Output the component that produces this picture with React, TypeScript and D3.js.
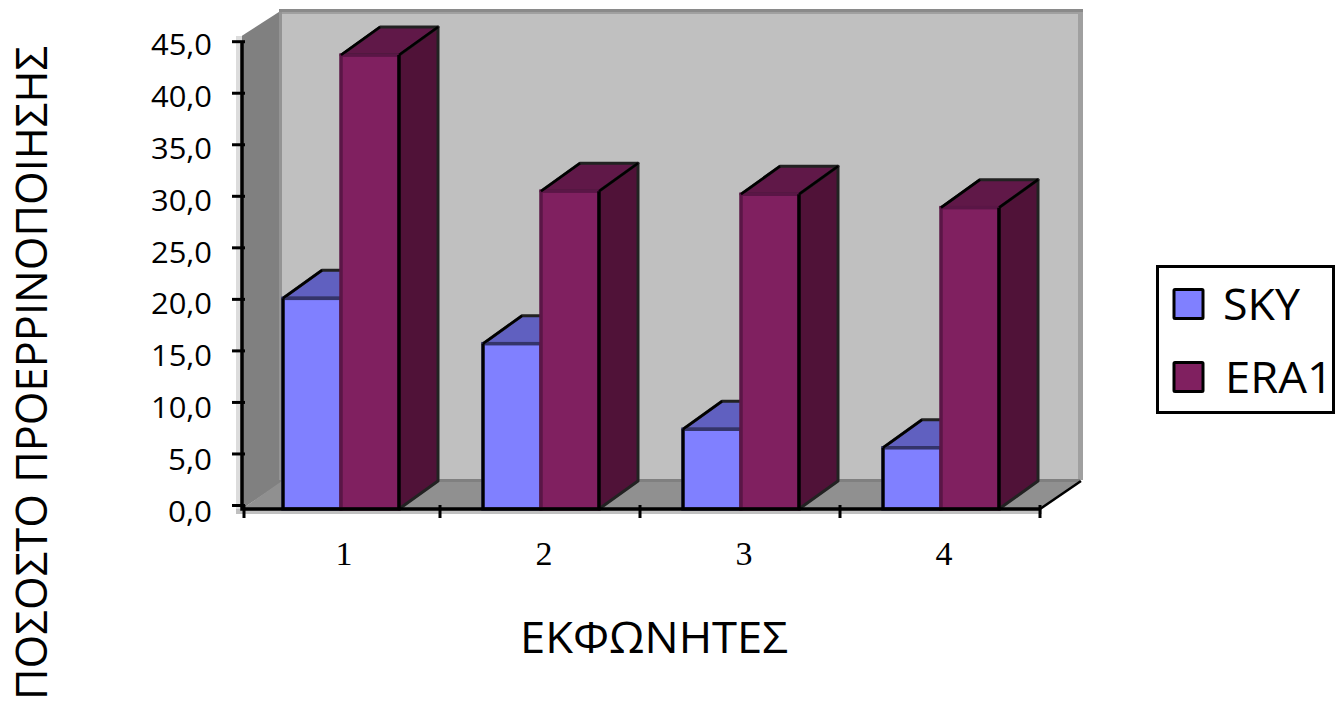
import React from "react";
import * as d3 from "d3";

const categories = ["1", "2", "3", "4"];
const seriesNames = ["SKY", "ERA1"];
const sky = [20.1, 15.7, 7.4, 5.6];
const era1 = [43.7, 30.5, 30.2, 28.9];
const yTicks = [0, 5, 10, 15, 20, 25, 30, 35, 40, 45];
const yTitle = "ΠΟΣΟΣΤΟ ΠΡΟΕΡΡΙΝΟΠΟΙΗΣΗΣ";
const xTitle = "ΕΚΦΩΝΗΤΕΣ";

const W = 1335, H = 701;
const DX = 39, DY = -28;
const BASE = 509;
const x0 = d3.scaleBand<string>().domain(categories).range([240, 1040]);
const x1 = d3.scaleBand<string>().domain(seriesNames).range([43, 159]);
const y = d3.scaleLinear().domain([0, 45]).range([505.5, 41.7]);
const yLabel = d3.scaleLinear().domain([0, 45]).range([511, 44.5]);
const fmt = (v: number) => v.toFixed(1).replace(".", ",");
const line = d3.line();
const poly = (pts: [number, number][]) => line(pts) + "Z";

const colors: Record<string, { front: string; top: string; side: string; edge: string }> = {
  SKY: { front: "#8080ff", top: "#6060c0", side: "#404080", edge: "#34346a" },
  ERA1: { front: "#802060", top: "#601848", side: "#501238", edge: "#5a1646" },
};

function Bar({ cat, name, value }: { cat: string; name: string; value: number }) {
  const l = x0(cat)! + x1(name)!;
  const r = l + x1.bandwidth();
  const t = y(value);
  const c = colors[name];
  const dark = { stroke: "#222", strokeWidth: 3, strokeLinejoin: "round" as const };
  return (
    <g>
      <path d={poly([[r, BASE], [r + DX, BASE + DY], [r + DX, t + DY], [r, t]])} fill={c.side} {...dark} />
      <path d={poly([[l, t], [l + DX, t + DY], [r + DX, t + DY], [r, t]])} fill={c.top} {...dark} />
      <rect x={l} y={t} width={r - l} height={BASE - t} fill={c.front} stroke={c.edge} strokeWidth={3.5} />
      <line x1={l} x2={l + DX} y1={t} y2={t + DY} stroke="#000" strokeWidth={2.5} />
      <line x1={r} x2={r + DX} y1={t} y2={t + DY} stroke="#000" strokeWidth={2.5} />
      {name === "SKY" ? (
        <line x1={l} x2={l} y1={t} y2={BASE} stroke="#000" strokeWidth={3} />
      ) : (
        <line x1={r} x2={r} y1={t} y2={BASE} stroke="#000" strokeWidth={3.5} />
      )}
    </g>
  );
}

export default function App() {
  const t = y(45), L = 242, R = 1040;
  return (
    <svg width={W} height={H} style={{ position: "fixed", left: 0, top: 0, background: "#fff" }}>
      {/* shadow strips around the axes */}
      <rect x={236} y={36} width={6} height={477} fill="#dcdcdc" />
      <rect x={236} y={509} width={806} height={5} fill="#c0c0c0" />

      {/* walls */}
      <path d={poly([[L, t - 6], [L + 40, 10], [L + 40, 482], [L, BASE]])} fill="#808080" />
      <rect x={281} y={10} width={802} height={470} fill="#a0a0a0" />
      <rect x={279} y={9} width={804} height={3} fill="#8a8a8a" />
      <rect x={279} y={12} width={3} height={468} fill="#949494" />
      <rect x={282} y={14} width={796} height={466} fill="#c0c0c0" />
      <path d={poly([[L, BASE], [L + 40, 481], [1081, 481], [R, BASE]])} fill="#909090" />
      <rect x={282} y={479} width={798} height={3} fill="#808080" />
      <line x1={R} y1={BASE} x2={1081} y2={481} stroke="#000" strokeWidth={2.5} />

      {categories.map((c, i) => (
        <g key={c}>
          <Bar cat={c} name="SKY" value={sky[i]} />
          <Bar cat={c} name="ERA1" value={era1[i]} />
        </g>
      ))}

      {/* axes */}
      <path d={`M${L},${t}V${BASE}H${R}`} fill="none" stroke="#000" strokeWidth={3.5} />
      {yTicks.map((v) => (
        <g key={v}>
          <line x1={232} x2={245} y1={y(v)} y2={y(v)} stroke="#000" strokeWidth={3} />
          <text x={212} y={yLabel(v)} dy="0.36em" textAnchor="end" fontFamily="'Open Sans'" fontSize={30} fill="#000"
            textLength={fmt(v).length === 4 ? 61 : 44} lengthAdjust="spacingAndGlyphs">
            {fmt(v)}
          </text>
        </g>
      ))}
      {[244, ...categories.slice(1).map((c) => x0(c)!), R].map((px, i) => (
        <line key={i} x1={px} x2={px} y1={505} y2={518} stroke="#000" strokeWidth={3} />
      ))}
      {categories.map((c) => (
        <text key={c} x={x0(c)! + x0.bandwidth() / 2 + 4} y={565} textAnchor="middle"
          fontFamily="'Liberation Serif'" fontSize={34} fill="#000">{c}</text>
      ))}

      {/* titles */}
      <text x={654} y={653} textAnchor="middle" fontFamily="'Open Sans'" fontSize={43} fill="#000"
        textLength={268} lengthAdjust="spacingAndGlyphs">{xTitle}</text>
      <text transform="translate(47,373) rotate(-90)" textAnchor="middle" fontFamily="'Open Sans'" fontSize={43} fill="#000"
        textLength={654} lengthAdjust="spacingAndGlyphs">{yTitle}</text>

      {/* legend */}
      <rect x={1157.5} y={266.5} width={176} height={146} fill="#fff" stroke="#000" strokeWidth={3} />
      {seriesNames.map((n, i) => (
        <g key={n}>
          <rect x={1174} y={289.5 + i * 73} width={29} height={29} fill={colors[n].front} stroke="#000" strokeWidth={3} rx={1} />
          <text x={[1223, 1225][i]} y={[320, 393][i]} fontFamily="'Open Sans'" fontSize={44} fill="#000"
            textLength={[77, 108][i]} lengthAdjust="spacingAndGlyphs">{n}</text>
        </g>
      ))}
    </svg>
  );
}
